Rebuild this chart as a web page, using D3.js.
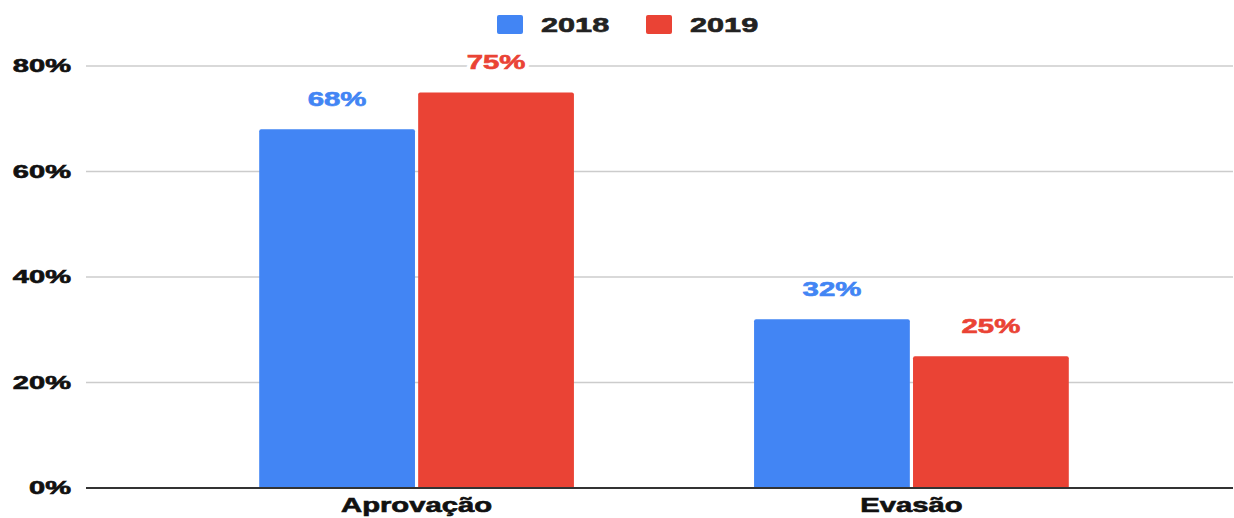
<!DOCTYPE html>
<html>
  <head>
    <meta charset="utf-8">
    <title>Aprovação e Evasão</title>
    <script src="https://cdn.jsdelivr.net/npm/d3@7"></script>
    <style>
      body { margin: 0; background: #fff; }
      text { font-family: "Liberation Sans", Arial, sans-serif; font-weight: bold; }
    </style>
  </head>
  <body>
    <svg id="chart" width="1234" height="518"></svg>
    <script>
      // chart data
      var categories = ["Aprovação", "Evasão"];
      var years = ["2018", "2019"];
      var values2018 = [68, 32];
      var values2019 = [75, 25];
      var yTicks = [0, 20, 40, 60, 80];
      var colors = ["#4285F4", "#EA4335"];

      var series = [values2018, values2019];

      var svg = d3.select("#chart");
      var plotLeft = 86, plotRight = 1233, plotTop = 66, plotBottom = 488;

      var y = d3.scaleLinear().domain([0, 80]).range([plotBottom, plotTop]);

      var x = d3.scaleBand()
        .domain(categories)
        .range([plotLeft, 1242])
        .paddingInner(0.364)
        .paddingOuter(0.35);

      var xs = d3.scaleBand()
        .domain(years)
        .range([0, x.bandwidth()])
        .paddingInner(0.02);

      // text is stretched horizontally in the original picture
      function label(g, txt, px, py, size, sx, anchor, fill) {
        return g.append("text")
          .attr("transform", "translate(" + px + "," + py + ") scale(" + sx + ",1)")
          .attr("text-anchor", anchor)
          .style("font-size", size + "px")
          .attr("fill", fill)
          .attr("stroke", fill)
          .attr("stroke-width", 0.6)
          .text(txt);
      }

      // gridlines + y labels
      var grid = svg.append("g");
      yTicks.forEach(function (t) {
        grid.append("line")
          .attr("x1", plotLeft).attr("x2", plotRight)
          .attr("y1", y(t)).attr("y2", y(t))
          .attr("stroke", t === 0 ? "#333" : "#ccc")
          .attr("stroke-width", t === 0 ? 2 : 1.3);
        label(grid, t + "%", 71, y(t) + 6.3, 17.5, 1.66, "end", "#111");
      });

      // bars
      var bars = svg.append("g");
      categories.forEach(function (c, ci) {
        years.forEach(function (yr, si) {
          var v = series[si][ci];
          var bx = x(c) + xs(yr), bw = xs.bandwidth();
          var by = y(v), bh = plotBottom - y(v) - 1;
          bars.append("path")
            .attr("d", "M" + bx + "," + (by + bh) + "V" + (by + 2) +
              "Q" + bx + "," + by + " " + (bx + 2) + "," + by +
              "H" + (bx + bw - 2) +
              "Q" + (bx + bw) + "," + by + " " + (bx + bw) + "," + (by + 2) +
              "V" + (by + bh) + "Z")
            .attr("fill", colors[si]);
        });
      });

      // value labels (white halo behind, then the coloured text)
      var vals = svg.append("g");
      categories.forEach(function (c, ci) {
        years.forEach(function (yr, si) {
          var v = series[si][ci];
          var cx = x(c) + xs(yr) + xs.bandwidth() / 2;
          label(vals, v + "%", cx, y(v) - 23.5, 20, 1.47, "middle", "#fff")
            .attr("stroke-width", 6);
          label(vals, v + "%", cx, y(v) - 23.5, 20, 1.47, "middle", colors[si]);
        });
      });

      // category labels
      categories.forEach(function (c) {
        label(svg, c, x(c) + x.bandwidth() / 2, 512, 19.5, 1.5, "middle", "#111");
      });

      // legend
      var legend = svg.append("g");
      var legendX = [497, 646];
      years.forEach(function (yr, i) {
        legend.append("rect")
          .attr("x", legendX[i]).attr("y", 15)
          .attr("width", 26).attr("height", 19)
          .attr("rx", 2)
          .attr("fill", colors[i]);
        label(legend, yr, legendX[i] + 44, 32, 21, 1.46, "start", "#222");
      });
    </script>
  </body>
</html>
